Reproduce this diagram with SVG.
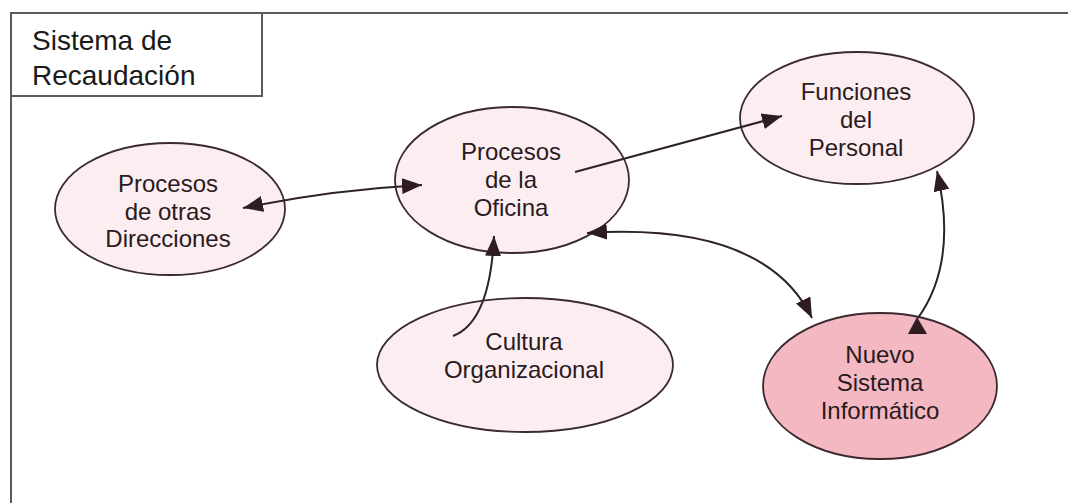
<svg xmlns="http://www.w3.org/2000/svg" width="1068" height="503" viewBox="0 0 1068 503">
<defs>
<style>
.frame{fill:none;stroke:#5a5a5a;stroke-width:2}
.node{fill:#fcedf0;stroke:#3a2a2e;stroke-width:1.8}
.hot{fill:#f3b8c2}
.lbl{font-family:"Liberation Sans",Arial,sans-serif;font-size:24px;fill:#2a1a1e;text-anchor:middle}
.title{font-family:"Liberation Sans",Arial,sans-serif;font-size:28px;fill:#1a1a1a}
.conn{fill:none;stroke:#2e2226;stroke-width:2}
.head{fill:#2e1c22}
</style>
<marker id="ah" viewBox="0 0 20 16" refX="20" refY="8" markerWidth="20" markerHeight="16" markerUnits="userSpaceOnUse" orient="auto-start-reverse">
<path d="M0,0 L20,8 L0,16 Z" class="head"/>
</marker>
</defs>
<rect width="1068" height="503" fill="#ffffff"/>
<g id="frame">
<path class="frame" d="M11,503 V13 H1068"/>
<path class="frame" d="M11,96 H262 V13"/>
<text class="title" x="32" y="50">Sistema de</text>
<text class="title" x="32" y="85">Recaudación</text>
</g>
<g id="n-otras">
<ellipse class="node" cx="170" cy="209" rx="115" ry="66"/>
<text class="lbl" x="168" y="192">Procesos</text>
<text class="lbl" x="168" y="219.5">de otras</text>
<text class="lbl" x="168" y="247">Direcciones</text>
</g>
<g id="n-oficina">
<ellipse class="node" cx="512" cy="180" rx="117" ry="73"/>
<text class="lbl" x="511" y="160">Procesos</text>
<text class="lbl" x="511" y="188">de la</text>
<text class="lbl" x="511" y="216">Oficina</text>
</g>
<g id="n-funciones">
<ellipse class="node" cx="857" cy="118" rx="117" ry="66"/>
<text class="lbl" x="856" y="100">Funciones</text>
<text class="lbl" x="856" y="128">del</text>
<text class="lbl" x="856" y="156">Personal</text>
</g>
<g id="n-cultura">
<ellipse class="node" cx="525" cy="365" rx="148" ry="67"/>
<text class="lbl" x="524" y="350">Cultura</text>
<text class="lbl" x="524" y="378">Organizacional</text>
</g>
<g id="n-nuevo">
<ellipse class="node hot" cx="880" cy="386" rx="117" ry="73"/>
<text class="lbl" x="880" y="363">Nuevo</text>
<text class="lbl" x="880" y="391">Sistema</text>
<text class="lbl" x="880" y="419">Informático</text>
</g>
<g id="connectors">
<path class="conn" d="M243,208 Q330,190 422,185" marker-start="url(#ah)" marker-end="url(#ah)"/>
<path class="conn" d="M575,172 L782,116" marker-end="url(#ah)"/>
<path class="conn" d="M453,336 Q490,322 494,236" marker-end="url(#ah)"/>
<path class="conn" d="M587,233 Q765,222 812,318" marker-start="url(#ah)" marker-end="url(#ah)"/>
<path class="conn" d="M937,171 Q958,262 918,318" marker-start="url(#ah)"/>
<polygon class="head" points="917,317 908,334 927,334"/>
</g>
</svg>
